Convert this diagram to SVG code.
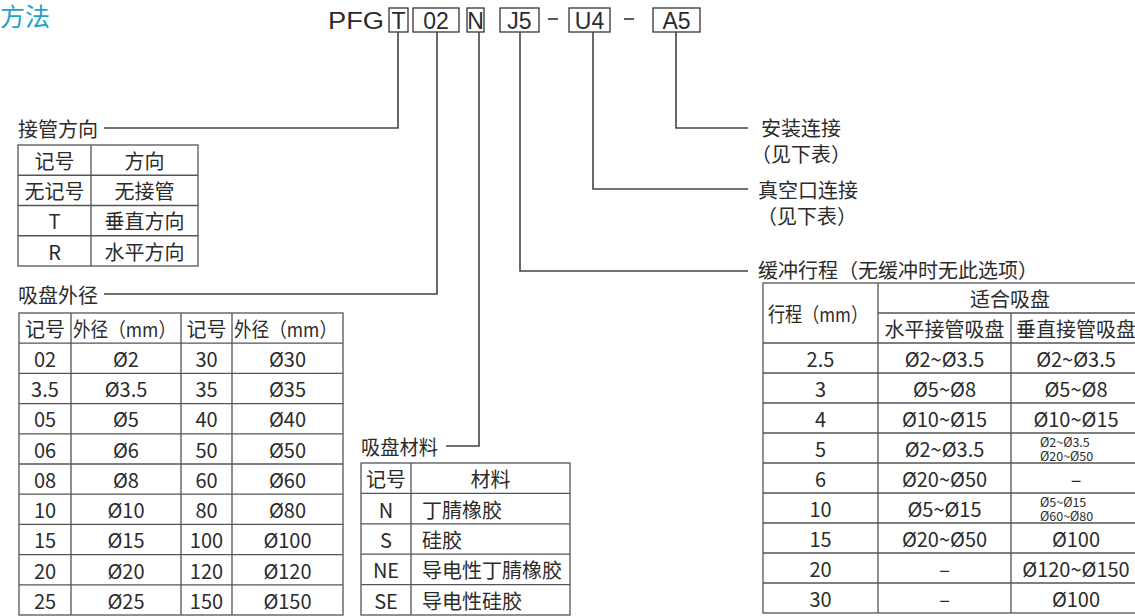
<svg xmlns="http://www.w3.org/2000/svg" width="1135" height="616" viewBox="0 0 1135 616">
<style>
  text { font-family: "Noto Sans CJK SC", "Noto Sans", sans-serif; fill: #2b2b2b; font-size: 20px; dominant-baseline: central; }
  .c { text-anchor: middle; }
  .sm { font-size: 12.5px; }
  .hdr { font-family: "Liberation Sans", Arial, sans-serif; font-size: 23px; dominant-baseline: alphabetic; }
  .title { fill: #1ca3cb; font-size: 25px; }
  .cell { fill: #fff; stroke: #555; stroke-width: 1.3; }
  .grid { stroke: #555; stroke-width: 1.3; fill: none; }
  .box { fill: none; stroke: #333; stroke-width: 1.3; }
  .conn { stroke: #444; stroke-width: 1.6; fill: none; }
</style>
<rect width="1135" height="616" fill="#fff"/>

<text class="title" x="0" y="15">方法</text>

<g id="model-code">
  <text class="hdr" x="328" y="29" textLength="56" lengthAdjust="spacingAndGlyphs">PFG</text>
  <rect class="box" x="389" y="8" width="19" height="24"/>
  <text class="hdr c" x="398.5" y="29">T</text>
  <rect class="box" x="413" y="8" width="46" height="24"/>
  <text class="hdr c" x="436" y="29">02</text>
  <rect class="box" x="467" y="8" width="17" height="24"/>
  <text class="hdr c" x="475.5" y="29">N</text>
  <rect class="box" x="500" y="8" width="39" height="24"/>
  <text class="hdr c" x="519.5" y="29">J5</text>
  <line x1="548" y1="19" x2="558" y2="19" stroke="#333" stroke-width="1.6"/>
  <rect class="box" x="569" y="8" width="41" height="24"/>
  <text class="hdr c" x="589.5" y="29">U4</text>
  <line x1="624" y1="19" x2="634" y2="19" stroke="#333" stroke-width="1.6"/>
  <rect class="box" x="653" y="8" width="47" height="24"/>
  <text class="hdr c" x="676.5" y="29">A5</text>
</g>

<g id="connectors">
  <path class="conn" d="M398 32 V128 H104"/>
  <path class="conn" d="M437 32 V294 H104"/>
  <path class="conn" d="M479 32 V446 H446"/>
  <path class="conn" d="M520 32 V271 H748"/>
  <path class="conn" d="M593 32 V189 H748"/>
  <path class="conn" d="M676 32 V128 H748"/>
</g>

<g id="node-direction">
  <text x="18" y="128">接管方向</text>
  <rect class="cell" x="18" y="145" width="180" height="121"/>
  <path class="grid" d="M91 145 V266 M18 175.25 H198 M18 205.5 H198 M18 235.75 H198"/>
  <text class="c" x="54.5" y="160">记号</text><text class="c" x="144.5" y="160">方向</text>
  <text class="c" x="54.5" y="190.5">无记号</text><text class="c" x="144.5" y="190.5">无接管</text>
  <text class="c" x="54.5" y="220.5">T</text><text class="c" x="144.5" y="220.5">垂直方向</text>
  <text class="c" x="54.5" y="251">R</text><text class="c" x="144.5" y="251">水平方向</text>
</g>

<g id="node-diameter">
  <text x="18" y="294">吸盘外径</text>
  <rect class="cell" x="19" y="313" width="324" height="302"/>
  <path class="grid" d="M71 313 V615 M181 313 V615 M232 313 V615
    M19 343.2 H343 M19 373.4 H343 M19 403.6 H343 M19 433.8 H343 M19 464 H343
    M19 494.2 H343 M19 524.4 H343 M19 554.6 H343 M19 584.8 H343"/>
  <text class="c" x="45" y="328">记号</text><text x="73" y="328" textLength="103" lengthAdjust="spacingAndGlyphs">外径（mm）</text>
  <text class="c" x="206.5" y="328">记号</text><text x="234" y="328" textLength="103" lengthAdjust="spacingAndGlyphs">外径（mm）</text>
  <text class="c" x="45" y="358">02</text><text class="c" x="126" y="358">Ø2</text><text class="c" x="206.5" y="358">30</text><text class="c" x="287.5" y="358">Ø30</text>
  <text class="c" x="45" y="388.5">3.5</text><text class="c" x="126" y="388.5">Ø3.5</text><text class="c" x="206.5" y="388.5">35</text><text class="c" x="287.5" y="388.5">Ø35</text>
  <text class="c" x="45" y="418.5">05</text><text class="c" x="126" y="418.5">Ø5</text><text class="c" x="206.5" y="418.5">40</text><text class="c" x="287.5" y="418.5">Ø40</text>
  <text class="c" x="45" y="449">06</text><text class="c" x="126" y="449">Ø6</text><text class="c" x="206.5" y="449">50</text><text class="c" x="287.5" y="449">Ø50</text>
  <text class="c" x="45" y="479">08</text><text class="c" x="126" y="479">Ø8</text><text class="c" x="206.5" y="479">60</text><text class="c" x="287.5" y="479">Ø60</text>
  <text class="c" x="45" y="509.5">10</text><text class="c" x="126" y="509.5">Ø10</text><text class="c" x="206.5" y="509.5">80</text><text class="c" x="287.5" y="509.5">Ø80</text>
  <text class="c" x="45" y="539.5">15</text><text class="c" x="126" y="539.5">Ø15</text><text class="c" x="206.5" y="539.5">100</text><text class="c" x="287.5" y="539.5">Ø100</text>
  <text class="c" x="45" y="570">20</text><text class="c" x="126" y="570">Ø20</text><text class="c" x="206.5" y="570">120</text><text class="c" x="287.5" y="570">Ø120</text>
  <text class="c" x="45" y="600">25</text><text class="c" x="126" y="600">Ø25</text><text class="c" x="206.5" y="600">150</text><text class="c" x="287.5" y="600">Ø150</text>
</g>

<g id="node-material">
  <text x="361" y="446" textLength="77" lengthAdjust="spacingAndGlyphs">吸盘材料</text>
  <rect class="cell" x="361" y="463" width="209" height="152"/>
  <path class="grid" d="M411 463 V615 M361 493.4 H570 M361 523.8 H570 M361 554.2 H570 M361 584.6 H570"/>
  <text class="c" x="386" y="478.5">记号</text><text class="c" x="490.5" y="478.5">材料</text>
  <text class="c" x="386" y="509">N</text><text x="422" y="509">丁腈橡胶</text>
  <text class="c" x="386" y="539">S</text><text x="422" y="539">硅胶</text>
  <text class="c" x="386" y="569.5">NE</text><text x="422" y="569.5">导电性丁腈橡胶</text>
  <text class="c" x="386" y="600">SE</text><text x="422" y="600">导电性硅胶</text>
</g>

<g id="node-mount">
  <text x="761" y="127">安装连接</text>
  <text x="751" y="153">（见下表）</text>
</g>

<g id="node-vacuum">
  <text x="758" y="189">真空口连接</text>
  <text x="757" y="215">（见下表）</text>
</g>

<g id="node-stroke">
  <text x="758" y="269">缓冲行程（无缓冲时无此选项）</text>
  <rect class="cell" x="763" y="283" width="380" height="330"/>
  <path class="grid" d="M878 283 V613 M1011 313 V613 M878 313 H1143
    M763 343 H1143 M763 373 H1143 M763 403 H1143 M763 433 H1143 M763 463 H1143
    M763 493 H1143 M763 523 H1143 M763 553 H1143 M763 583 H1143"/>
  <text x="768" y="313" textLength="100" lengthAdjust="spacingAndGlyphs">行程（mm）</text>
  <text class="c" x="1010" y="298">适合吸盘</text>
  <text class="c" x="944.5" y="328">水平接管吸盘</text>
  <text class="c" x="1076" y="328">垂直接管吸盘</text>
  <text class="c" x="820.5" y="358">2.5</text><text class="c" x="944.5" y="358">Ø2~Ø3.5</text><text class="c" x="1076" y="358">Ø2~Ø3.5</text>
  <text class="c" x="820.5" y="388">3</text><text class="c" x="944.5" y="388">Ø5~Ø8</text><text class="c" x="1076" y="388">Ø5~Ø8</text>
  <text class="c" x="820.5" y="418">4</text><text class="c" x="944.5" y="418">Ø10~Ø15</text><text class="c" x="1076" y="418">Ø10~Ø15</text>
  <text class="c" x="820.5" y="448">5</text><text class="c" x="944.5" y="448">Ø2~Ø3.5</text>
  <text class="sm" x="1040" y="441.5">Ø2~Ø3.5</text><text class="sm" x="1040" y="455.5">Ø20~Ø50</text>
  <text class="c" x="820.5" y="478">6</text><text class="c" x="944.5" y="478">Ø20~Ø50</text><text class="c" x="1076" y="478">–</text>
  <text class="c" x="820.5" y="508">10</text><text class="c" x="944.5" y="508">Ø5~Ø15</text>
  <text class="sm" x="1040" y="501.5">Ø5~Ø15</text><text class="sm" x="1040" y="515.5">Ø60~Ø80</text>
  <text class="c" x="820.5" y="538">15</text><text class="c" x="944.5" y="538">Ø20~Ø50</text><text class="c" x="1076" y="538">Ø100</text>
  <text class="c" x="820.5" y="568">20</text><text class="c" x="944.5" y="568">–</text><text class="c" x="1076" y="568">Ø120~Ø150</text>
  <text class="c" x="820.5" y="598">30</text><text class="c" x="944.5" y="598">–</text><text class="c" x="1076" y="598">Ø100</text>
</g>
</svg>
